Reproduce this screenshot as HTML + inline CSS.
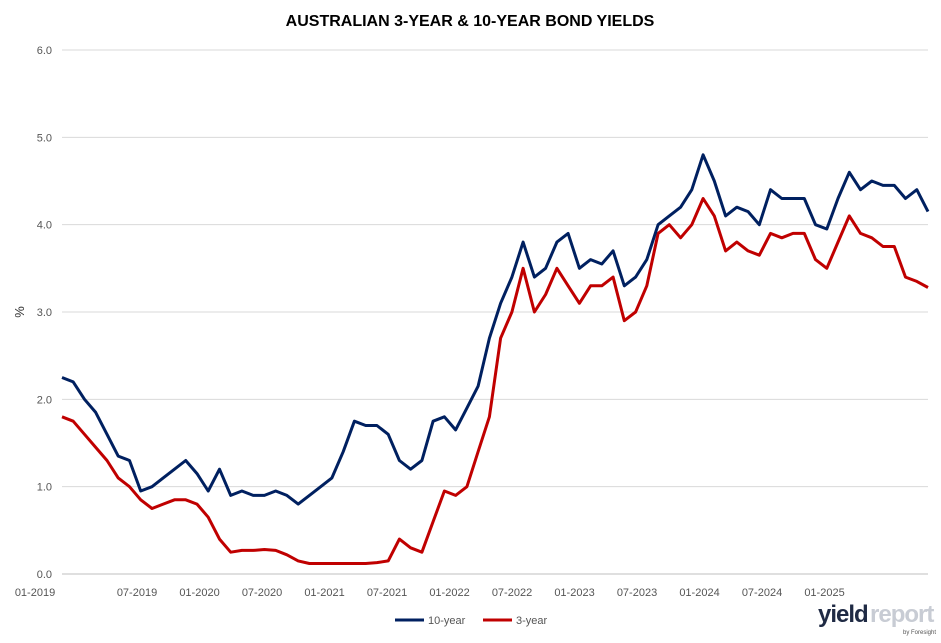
<!DOCTYPE html>
<html><head><meta charset="utf-8"><style>
body{margin:0;background:#fff;font-family:"Liberation Sans",sans-serif}
svg text{font-family:"Liberation Sans",sans-serif}
</style></head><body>
<svg width="941" height="638">
<text x="470" y="26" text-anchor="middle" font-size="16" font-weight="bold" fill="#000">AUSTRALIAN 3-YEAR &amp; 10-YEAR BOND YIELDS</text>
<g id="grid"></g><g id="yt"></g><g id="xt"></g><g id="lines"></g>
<text x="24" y="312" font-size="13" fill="#333" transform="rotate(-90 24 312)" text-anchor="middle">%</text>
<g>
<line x1="395" y1="620" x2="424" y2="620" stroke="#002060" stroke-width="3"/>
<text x="428" y="624" font-size="11" fill="#555">10-year</text>
<line x1="483" y1="620" x2="512" y2="620" stroke="#c00000" stroke-width="3"/>
<text x="516" y="624" font-size="11" fill="#555">3-year</text>
</g>
<g>
<text x="818" y="622" font-size="24" font-weight="bold" fill="#1f2a44" letter-spacing="-1">yield</text>
<text x="870" y="622" font-size="24" font-weight="bold" fill="#c8ccd4" letter-spacing="-1">report</text>
<text x="903" y="634" font-size="6" fill="#555">by Foresight</text>
</g>
</svg>
<script>
const yTicks=[0,1,2,3,4,5,6];
const xLabels=["01-2019","07-2019","01-2020","07-2020","01-2021","07-2021","01-2022","07-2022","01-2023","07-2023","01-2024","07-2024","01-2025"];
const tenYear=[2.25,2.2,2.0,1.85,1.6,1.35,1.3,0.95,1.0,1.1,1.2,1.3,
1.15,0.95,1.2,0.9,0.95,0.9,0.9,0.95,0.9,0.8,0.9,1.0,
1.1,1.4,1.75,1.7,1.7,1.6,1.3,1.2,1.3,1.75,1.8,1.65,
1.9,2.15,2.7,3.1,3.4,3.8,3.4,3.5,3.8,3.9,3.5,3.6,
3.55,3.7,3.3,3.4,3.6,4.0,4.1,4.2,4.4,4.8,4.5,4.1,
4.2,4.15,4.0,4.4,4.3,4.3,4.3,4.0,3.95,4.3,4.6,4.4,
4.5,4.45,4.45,4.3,4.4,4.15];
const threeYear=[1.8,1.75,1.6,1.45,1.3,1.1,1.0,0.85,0.75,0.8,0.85,0.85,
0.8,0.65,0.4,0.25,0.27,0.27,0.28,0.27,0.22,0.15,0.12,0.12,
0.12,0.12,0.12,0.12,0.13,0.15,0.4,0.3,0.25,0.6,0.95,0.9,
1.0,1.4,1.8,2.7,3.0,3.5,3.0,3.2,3.5,3.3,3.1,3.3,
3.3,3.4,2.9,3.0,3.3,3.9,4.0,3.85,4.0,4.3,4.1,3.7,
3.8,3.7,3.65,3.9,3.85,3.9,3.9,3.6,3.5,3.8,4.1,3.9,
3.85,3.75,3.75,3.4,3.35,3.28];
const NS="http://www.w3.org/2000/svg";
const L=62,R=928,Y0=574,Y6=50;
const y=v=>Y0-(Y0-Y6)*v/6;
const x=m=>L+m*(R-L)/(tenYear.length-1);
const lx=i=>i===0?35:74.5+62.5*i;
function mk(t,a,p){const e=document.createElementNS(NS,t);for(const k in a)e.setAttribute(k,a[k]);p.appendChild(e);return e;}
const g=document.getElementById('grid'),yt=document.getElementById('yt'),xt=document.getElementById('xt'),ln=document.getElementById('lines');
yTicks.forEach(v=>{
 const l=mk('line',{x1:L,x2:R,y1:y(v),y2:y(v),stroke:v===0?'#bfbfbf':'#d9d9d9'},g);
 
 
 const t=mk('text',{x:L-10,y:y(v)+4,'text-anchor':'end','font-size':11,fill:'#555'},yt);
 t.textContent=v.toFixed(1);
 
 
});
xLabels.forEach((s,i)=>{
 const t=mk('text',{x:lx(i),y:596,'text-anchor':'middle','font-size':11,fill:'#555'},xt);
 t.textContent=s;
 
 
});
function line(d,c,n){
 const p=mk('path',{d:d.map((v,i)=>(i?'L':'M')+x(i).toFixed(1)+','+y(v).toFixed(1)).join(''),fill:'none',stroke:c,'stroke-width':3,'stroke-linejoin':'round'},ln);
 
 
}
line(threeYear,'#c00000','line-3-year');
line(tenYear,'#002060','line-10-year');
</script>
</body></html>
